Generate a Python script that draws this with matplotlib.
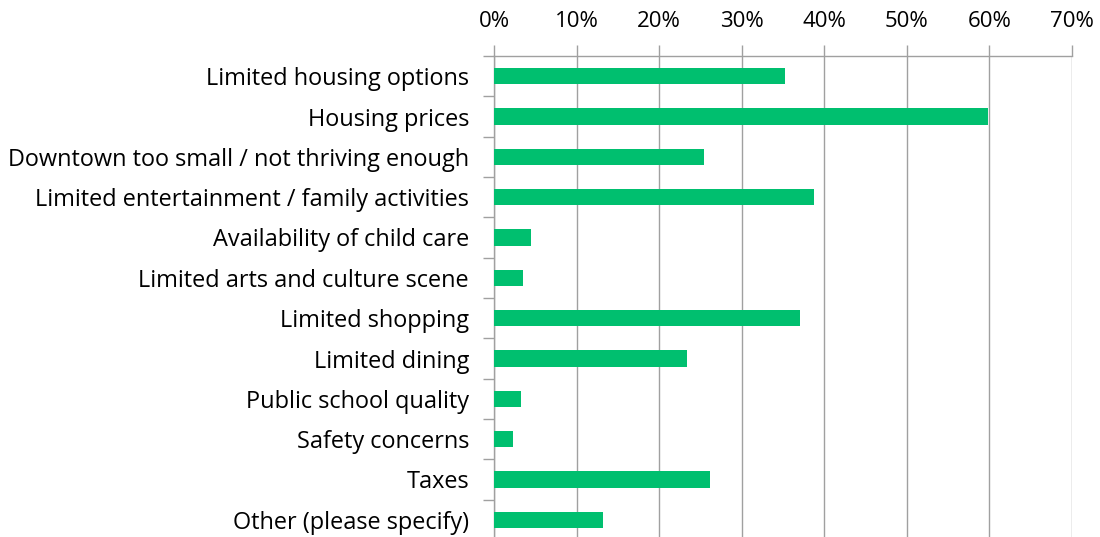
import matplotlib
matplotlib.use("Agg")
import matplotlib.pyplot as plt
from matplotlib.ticker import PercentFormatter, FixedLocator
import numpy as np

categories = [
    "Limited housing options",
    "Housing prices",
    "Downtown too small / not thriving enough",
    "Limited entertainment / family activities",
    "Availability of child care",
    "Limited arts and culture scene",
    "Limited shopping",
    "Limited dining",
    "Public school quality",
    "Safety concerns",
    "Taxes",
    "Other (please specify)",
]
shares = [35.2, 59.8, 25.4, 38.7, 4.5, 3.5, 37.0, 23.4, 3.3, 2.3, 26.1, 13.2]
x_ticks = [0, 10, 20, 30, 40, 50, 60, 70]

plt.rcParams["font.family"] = ["Open Sans", "DejaVu Sans"]
grid_color = "#A0A0A0"

fig = plt.figure(figsize=(11, 5.37), dpi=100)
ax = fig.add_axes([494 / 1100, -3 / 537, (1072 - 494) / 1100, (540 - 56) / 537])

y = np.arange(len(categories))
ax.barh(y, shares, height=0.4, color="#00BF6F", zorder=3)

ax.set_xlim(0, 70)
ax.set_ylim(len(categories) - 0.5, -0.5)
ax.xaxis.set_major_locator(FixedLocator(x_ticks))
ax.xaxis.set_major_formatter(PercentFormatter(decimals=0))
ax.xaxis.tick_top()
ax.grid(axis="x", color=grid_color, linewidth=1.0, zorder=0)

ax.set_yticks(y)
ax.set_yticklabels(categories)
ax.set_yticks(np.arange(len(categories) + 1) - 0.5, minor=True)
ax.tick_params(axis="y", which="major", length=0, pad=18, labelsize=16.9)
ax.tick_params(axis="y", which="minor", length=8, color=grid_color, width=1.0)
ax.tick_params(axis="x", length=8, color=grid_color, width=1.0, labelsize=16, pad=9)

for side in ["right", "bottom"]:
    ax.spines[side].set_visible(False)
for side in ["top", "left"]:
    ax.spines[side].set_color(grid_color)
    ax.spines[side].set_linewidth(1.0)

fig.savefig("out.png", dpi=100)
